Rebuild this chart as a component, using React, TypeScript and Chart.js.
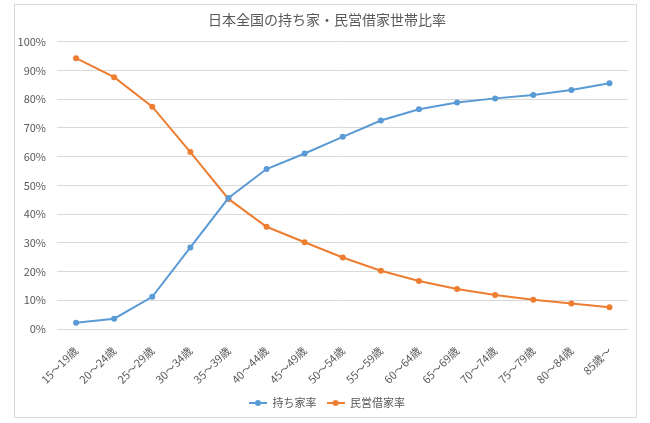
import React, { useEffect, useRef } from "react";
import { Chart, registerables } from "chart.js";

Chart.register(...registerables);

const categories = [
  "15〜19歳", "20〜24歳", "25〜29歳", "30〜34歳", "35〜39歳",
  "40〜44歳", "45〜49歳", "50〜54歳", "55〜59歳", "60〜64歳",
  "65〜69歳", "70〜74歳", "75〜79歳", "80〜84歳", "85歳〜",
];
const ownedRate = [2.2, 3.6, 11.2, 28.4, 45.6, 55.7, 61.1, 66.9, 72.6, 76.5, 78.9, 80.3, 81.5, 83.2, 85.6];
const rentRate = [94.3, 87.7, 77.4, 61.6, 45.3, 35.6, 30.2, 24.9, 20.3, 16.7, 13.9, 11.8, 10.2, 8.9, 7.6];
const seriesNames = ["持ち家率", "民営借家率"];
const titleText = "日本全国の持ち家・民営借家世帯比率";

const FONT = '"Noto Sans CJK JP", "Noto Sans", sans-serif';
const TEXT = "#595959";
const GRID = "#d9d9d9";
const BLUE = "#5b9bd5";
const ORANGE = "#ed7d31";

function makeMarker(color: string) {
  const c = document.createElement("canvas");
  c.width = 18;
  c.height = 8;
  const ctx = c.getContext("2d")!;
  ctx.strokeStyle = color;
  ctx.lineWidth = 2;
  ctx.beginPath();
  ctx.moveTo(0, 4);
  ctx.lineTo(18, 4);
  ctx.stroke();
  ctx.fillStyle = color;
  ctx.beginPath();
  ctx.arc(9, 4, 3, 0, Math.PI * 2);
  ctx.fill();
  return c;
}

export default function App() {
  const ref = useRef<HTMLCanvasElement>(null);

  useEffect(() => {
    if (!ref.current) return;
    const chart = new Chart(ref.current, {
      type: "line",
      data: {
        labels: categories,
        datasets: [
          {
            label: seriesNames[0],
            data: ownedRate,
            borderColor: BLUE,
            backgroundColor: BLUE,
            borderWidth: 2,
            pointRadius: 3,
            pointBorderWidth: 0,
            pointBackgroundColor: BLUE,
            tension: 0,
          },
          {
            label: seriesNames[1],
            data: rentRate,
            borderColor: ORANGE,
            backgroundColor: ORANGE,
            borderWidth: 2,
            pointRadius: 3,
            pointBorderWidth: 0,
            pointBackgroundColor: ORANGE,
            tension: 0,
          },
        ],
      },
      options: {
        animation: false,
        responsive: false,
        maintainAspectRatio: false,
        layout: { padding: { left: 4, right: 0, top: 0, bottom: 4.5 } },
        scales: {
          x: {
            offset: true,
            grid: { display: false },
            border: { display: false },
            ticks: {
              color: TEXT,
              font: { family: FONT, size: 11 },
              maxRotation: 45,
              minRotation: 45,
              autoSkip: false,
              padding: 7,
            },
            afterFit: (scale: any) => {
              scale.height = 58.5;
            },
          },
          y: {
            min: 0,
            max: 100,
            border: { display: false },
            grid: { color: GRID, drawTicks: false, lineWidth: 1 },
            ticks: {
              stepSize: 10,
              color: TEXT,
              font: { family: FONT, size: 11 },
              padding: 11,
              callback: (v: any) => v + "%",
            },
            afterFit: (scale: any) => {
              scale.width = 53;
            },
          },
          yRight: {
            position: "right",
            min: 0,
            max: 100,
            display: true,
            border: { display: false },
            grid: { display: false, drawTicks: false },
            ticks: { display: false },
            afterFit: (scale: any) => {
              scale.width = 21.5;
            },
          },
        },
        plugins: {
          title: {
            display: true,
            text: titleText,
            color: TEXT,
            font: { family: FONT, size: 14, weight: "normal" },
            padding: { top: 11, bottom: 14 },
          },
          legend: {
            display: true,
            position: "bottom",
            labels: {
              usePointStyle: true,
              pointStyleWidth: 18,
              padding: 10,
              color: TEXT,
              font: { family: FONT, size: 11 },
              generateLabels: (ch: any) =>
                ch.data.datasets.map((ds: any, i: number) => ({
                  text: ds.label,
                  fillStyle: ds.borderColor,
                  strokeStyle: ds.borderColor,
                  lineWidth: 0,
                  hidden: false,
                  datasetIndex: i,
                  fontColor: TEXT,
                  pointStyle: makeMarker(ds.borderColor),
                })),
            },
          },
          tooltip: { enabled: false },
        },
      },
    });
    return () => chart.destroy();
  }, []);

  return (
    <div style={{ position: "fixed", left: 0, top: 0, width: 650, height: 423, background: "#fff" }}>
      <canvas ref={ref} width={650} height={423} style={{ position: "absolute", left: 0, top: 0, width: 650, height: 423 }} />
      <div
        style={{
          position: "absolute",
          left: 14,
          top: 4,
          width: 623,
          height: 414,
          border: "1px solid " + GRID,
          boxSizing: "border-box",
          pointerEvents: "none",
        }}
      />
    </div>
  );
}
